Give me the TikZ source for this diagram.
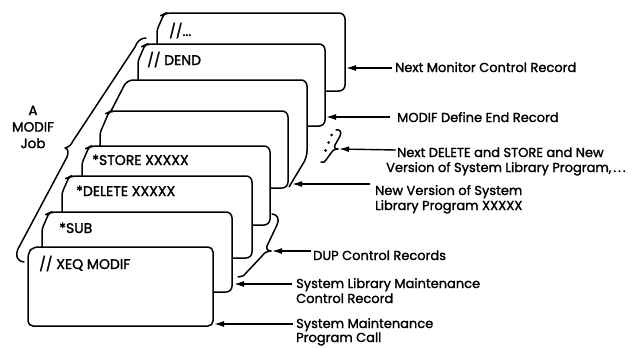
\documentclass[tikz,border=0pt]{standalone}
\usepackage{fontspec}
\setmainfont{Poppins}[FakeBold=1.6]
\usetikzlibrary{arrows.meta}
\newcommand\Card[4]{%
  \draw[card] (#1,#4) [rounded corners=3pt] -- (#1,#2+17) -- (#1+7,#2+1) [rounded corners=6pt] -- (#1+9,#2) -- (#3,#2) -- (#3,#4) -- cycle;}
\begin{document}
\begin{tikzpicture}[x=1pt,y=-1pt,
  card/.style={draw=black, fill=white, line width=1.5pt, line join=round},
  cardtext/.style={anchor=base west, font=\fontsize{14}{16}\selectfont, inner sep=0pt},
  lab/.style={anchor=base west, align=left, font=\fontsize{13}{15}\selectfont, inner sep=0pt},
  arr/.style={line width=1.4pt, -{Latex[length=10pt,width=6pt]}},
  brace/.style={draw, line width=1.5pt, line cap=round, line join=round}]
\useasboundingbox (0,0) rectangle (633,348);

% cards, back to front
\Card{157}{13}{345}{91}
\Card{138}{44}{325}{126}
\fill[white] (110,113) -- (127,80) -- (307,80) -- (307,157) -- (288,188) -- (110,188) -- cycle;
\draw[card,fill=none,rounded corners=6pt] (110,113) -- (127,80) -- (307,80) -- (307,157) -- (289,187);
\draw[card] (100,188) [rounded corners=3pt] -- (100,133) -- (109,112) [rounded corners=6pt] -- (111,111) -- (288,111) -- (288,188) -- cycle;
\Card{82}{146}{270}{225}
\Card{62}{176}{252}{258}
\Card{42}{212}{232}{292}
\draw[card, rounded corners=5pt] (28,326) -- (28,253) -- (33,247) -- (213,247) -- (213,326) -- cycle;

% card texts
\node[cardtext] (c1) at (169,36) {//...};
\node[cardtext] (c2) at (147,65) {// DEND};
\node[cardtext] (c3) at (92,165) {*STORE XXXXX};
\node[cardtext] (c4) at (76,196) {*DELETE XXXXX};
\node[cardtext] (c5) at (59,233) {*SUB};
\node[cardtext] (c6) at (39,269) {// XEQ MODIF};

% big brace
\draw[brace] (146,38) .. controls (140,38) and (137,42) .. (135,47) -- (73,141)
  .. controls (71,145) and (69,147) .. (65,148)
  .. controls (68,149) and (69,152) .. (67,157) -- (18,249)
  .. controls (15,256) and (17,261) .. (24,262);
\node[anchor=center, align=center, inner sep=0pt, font=\fontsize{13.5}{16.5}\selectfont] (job) at (33,127) {A\\MODIF\\Job};

% dots brace
\draw[brace] (336,130) .. controls (340,129) and (342,132) .. (340,136) -- (335,145)
  .. controls (334,148) and (335,149) .. (338,149)
  .. controls (334,149) and (332,151) .. (331,153) -- (326,160)
  .. controls (325,162) and (323,163) .. (321,162);
\fill (331.5,135) circle (1.5pt) (328.5,142.5) circle (1.5pt) (325.5,150.5) circle (1.5pt);

% DUP brace
\draw[brace] (272,214) .. controls (277,214) and (280,219) .. (277,225) -- (267,246)
  .. controls (266,249) and (268,251) .. (271,251)
  .. controls (267,251) and (264,253) .. (262,256) -- (246,273)
  .. controls (244,276) and (241,277) .. (238,277);

% labels (base = baseline of last line)
\node[lab] (l1) at (395,72) {Next Monitor Control Record};
\node[lab] (l2) at (397,122) {MODIF Define End Record};
\node[lab] (l3) at (386,172) {\hspace*{11pt}Next DELETE and STORE and New\\Version of System Library Program,\hspace{2pt}.\hspace{2pt}.\hspace{2pt}.};
\node[lab] (l4) at (375,210) {New Version of System\\Library Program XXXXX};
\node[lab] (l5) at (313,260) {DUP Control Records};
\node[lab] (l6) at (296,303) {System Library Maintenance\\Control Record};
\node[lab, font=\fontsize{13}{14}\selectfont] (l7) at (296,342) {System Maintenance\\Program Call};

% arrows
\coordinate (s1) at (392,68);  \coordinate (t1) at (346,68);
\coordinate (s2) at (390,117); \coordinate (t2) at (326,117);
\coordinate (s3) at (396,150); \coordinate (t3) at (339,149);
\coordinate (s4) at (370,184); \coordinate (t4) at (292,184);
\coordinate (s5) at (311,251); \coordinate (t5) at (272,251);
\coordinate (s6) at (292,284); \coordinate (t6) at (234,284);
\coordinate (s7) at (293,324); \coordinate (t7) at (214,324);
\foreach \i in {1,...,7} {\draw[arr] (s\i) -- (t\i);}
\end{tikzpicture}
\end{document}
